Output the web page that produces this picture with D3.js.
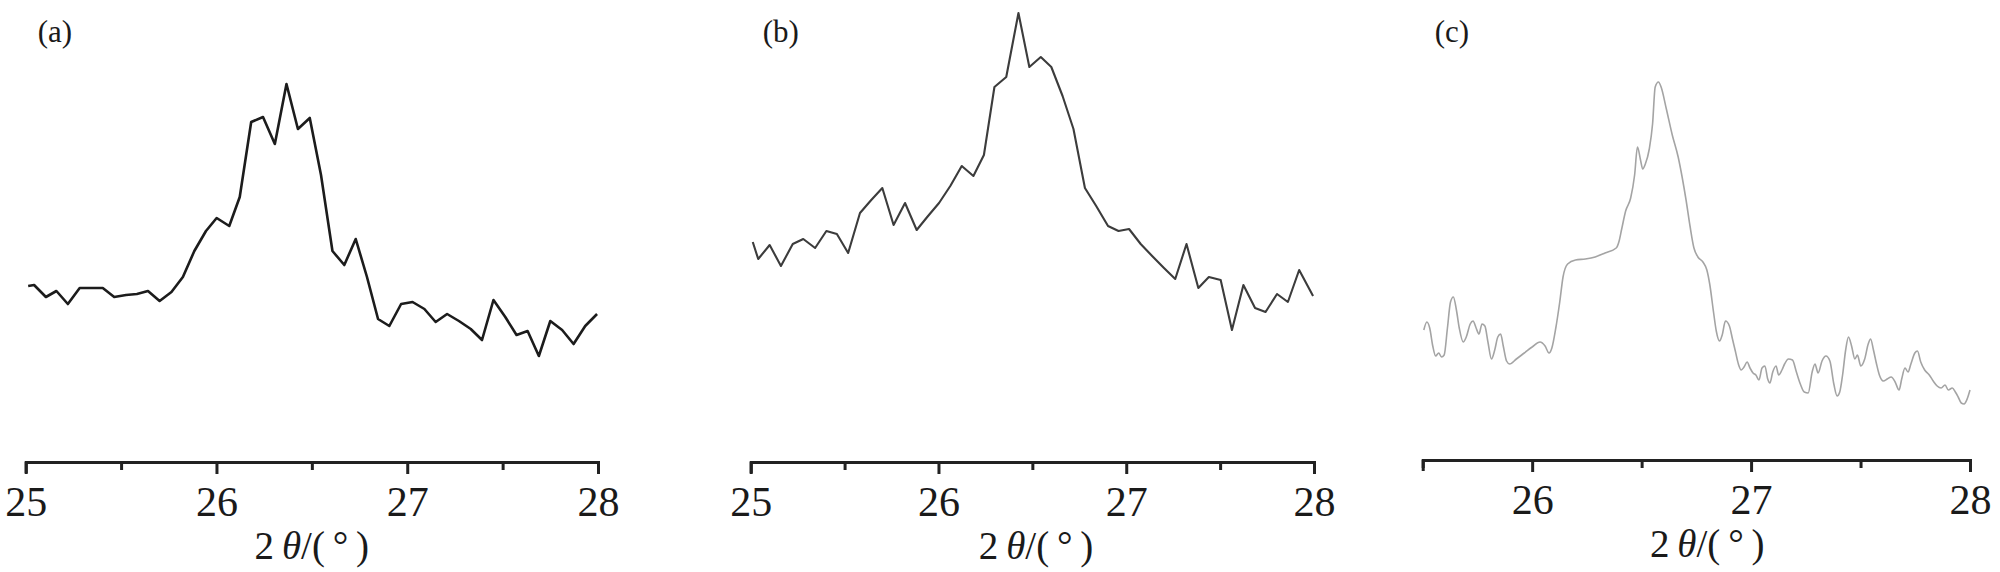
<!DOCTYPE html>
<html>
<head>
<meta charset="utf-8">
<script src="https://cdn.jsdelivr.net/npm/d3@7"></script>
<style>
  body { margin: 0; background: #fff; }
  svg { display: block; }
</style>
</head>
<body>
<svg width="2000" height="572"></svg>
<script>
// 2theta (deg) and intensity (a.u.), one pair of arrays per panel
var angleA = [25.013, 25.044, 25.106, 25.161, 25.221, 25.283, 25.345, 25.404, 25.464, 25.526,
  25.583, 25.641, 25.702, 25.764, 25.824, 25.884, 25.945, 26.001, 26.067, 26.122,
  26.182, 26.244, 26.306, 26.367, 26.427, 26.489, 26.548, 26.608, 26.670, 26.730,
  26.789, 26.847, 26.906, 26.968, 27.028, 27.090, 27.149, 27.209, 27.271, 27.333,
  27.392, 27.452, 27.514, 27.573, 27.631, 27.690, 27.750, 27.812, 27.872, 27.933, 27.995];
var intensityA = [176, 177, 165, 171, 158, 174, 174, 174, 165, 167,
  168, 171, 161, 170, 185, 211, 231, 244, 236, 265,
  340, 345, 318, 378, 333, 344, 287, 211, 197, 223,
  185, 143, 136, 158, 160, 153, 140, 148, 141, 133,
  122, 162, 145, 127, 131, 106, 141, 132, 118, 136, 148];

var angleB = [25.011, 25.040, 25.101, 25.161, 25.224, 25.280, 25.343, 25.403, 25.459, 25.519,
  25.582, 25.642, 25.701, 25.761, 25.822, 25.884, 25.940, 26.003, 26.063, 26.124,
  26.186, 26.242, 26.298, 26.361, 26.426, 26.484, 26.545, 26.601, 26.661, 26.719,
  26.780, 26.840, 26.903, 26.959, 27.015, 27.077, 27.138, 27.201, 27.261, 27.321,
  27.384, 27.440, 27.503, 27.563, 27.624, 27.686, 27.742, 27.803, 27.861, 27.921, 27.995];
var intensityB = [220, 203, 217, 196, 218, 223, 214, 231, 228, 209,
  249, 262, 274, 237, 259, 232, 245, 259, 276, 296,
  286, 307, 375, 385, 449, 395, 405, 395, 366, 333,
  274, 256, 236, 231, 233, 218, 206, 194, 183, 218,
  174, 185, 182, 132, 177, 154, 150, 168, 160, 192, 166];

var angleC = [25.505, 25.519, 25.532, 25.546, 25.559, 25.573, 25.586, 25.598, 25.613, 25.627,
  25.640, 25.654, 25.667, 25.685, 25.699, 25.717, 25.730, 25.744, 25.757, 25.771,
  25.784, 25.798, 25.814, 25.829, 25.843, 25.856, 25.868, 25.883, 25.897, 25.928,
  25.964, 26.000, 26.036, 26.059, 26.077, 26.090, 26.108, 26.126, 26.141, 26.162,
  26.198, 26.243, 26.288, 26.333, 26.384, 26.396, 26.409, 26.427, 26.450, 26.468,
  26.481, 26.495, 26.505, 26.517, 26.535, 26.550, 26.562, 26.577, 26.589, 26.613,
  26.640, 26.667, 26.685, 26.703, 26.721, 26.739, 26.757, 26.780, 26.798, 26.811,
  26.829, 26.841, 26.856, 26.868, 26.883, 26.901, 26.915, 26.928, 26.942, 26.955,
  26.968, 26.982, 26.995, 27.009, 27.022, 27.036, 27.050, 27.063, 27.076, 27.086,
  27.099, 27.114, 27.126, 27.141, 27.153, 27.171, 27.189, 27.207, 27.225, 27.243,
  27.261, 27.279, 27.292, 27.306, 27.324, 27.342, 27.360, 27.378, 27.393, 27.405,
  27.418, 27.432, 27.445, 27.459, 27.474, 27.486, 27.501, 27.519, 27.535, 27.546,
  27.559, 27.573, 27.586, 27.604, 27.622, 27.640, 27.658, 27.676, 27.688, 27.703,
  27.717, 27.730, 27.748, 27.760, 27.775, 27.793, 27.814, 27.832, 27.850, 27.868,
  27.886, 27.901, 27.919, 27.933, 27.946, 27.960, 27.973, 27.987, 28.000];
var intensityC = [130, 138, 132, 114, 104, 107, 103, 105, 132, 158,
  163, 150, 132, 118, 123, 136, 139, 132, 126, 136,
  134, 118, 101, 110, 123, 126, 114, 99, 96, 101,
  107, 113, 118, 114, 107, 112, 132, 158, 183, 196,
  200, 201, 203, 207, 212, 218, 231, 249, 262, 285,
  313, 300, 291, 296, 311, 336, 373, 378, 373, 351,
  325, 303, 283, 260, 234, 212, 203, 198, 190, 176,
  147, 129, 119, 125, 139, 134, 121, 109, 96, 90,
  93, 98, 92, 87, 85, 80, 92, 94, 81, 77,
  88, 94, 85, 90, 96, 101, 100, 88, 76, 68,
  67, 88, 96, 87, 99, 104, 99, 76, 64, 68,
  85, 110, 123, 114, 101, 105, 94, 101, 116, 121,
  110, 96, 85, 79, 81, 83, 78, 70, 81, 92,
  88, 96, 107, 109, 98, 90, 85, 79, 74, 72,
  75, 70, 72, 68, 63, 57, 56, 61, 70];

var majorTicks = [25, 26, 27, 28];
var minorTicks = [25.5, 26.5, 27.5];
var panelLabels = ["(a)", "(b)", "(c)"];

var panels = [
  { label: panelLabels[0], angle: angleA, value: intensityA, domain: [25, 28],
    x0: 25.7, x1: 598, axisY: 462, titleAt: 26.5, color: "#1c1c1c", width: 2.6, curve: d3.curveLinear },
  { label: panelLabels[1], angle: angleB, value: intensityB, domain: [25, 28],
    x0: 750.7, x1: 1314, axisY: 462, titleAt: 26.52, color: "#3c3c3c", width: 2.1, curve: d3.curveLinear },
  { label: panelLabels[2], angle: angleC, value: intensityC, domain: [25.5, 28],
    x0: 1422.7, x1: 1970, axisY: 460, titleAt: 26.8, color: "#a4a4a4", width: 1.6, curve: d3.curveMonotoneX }
];

var svg = d3.select("svg");
var serif = "'Liberation Serif', 'Times New Roman', serif";

panels.forEach(function(p) {
  var x = d3.scaleLinear().domain(p.domain).range([p.x0, p.x1]);
  var y = d3.scaleLinear().domain([0, p.axisY]).range([p.axisY, 0]);

  var g = svg.append("g");

  // spectrum
  var pts = p.angle.map(function(a, i) { return [a, p.value[i]]; });
  var line = d3.line()
    .x(function(d) { return x(d[0]); })
    .y(function(d) { return y(d[1]); })
    .curve(p.curve);
  g.append("path")
    .datum(pts)
    .attr("d", line)
    .attr("fill", "none")
    .attr("stroke", p.color)
    .attr("stroke-width", p.width)
    .attr("stroke-linejoin", "round");

  // bottom axis, ticks pointing down, labels on whole degrees only
  var ticks = majorTicks.concat(minorTicks)
    .filter(function(t) { return t >= p.domain[0] && t <= p.domain[1]; })
    .sort(d3.ascending);
  var axis = d3.axisBottom(x)
    .tickValues(ticks)
    .tickSizeOuter(0)
    .tickSize(11)
    .tickFormat(function(d) { return Number.isInteger(d) ? d : ""; });

  var ax = g.append("g")
    .attr("transform", "translate(0," + p.axisY + ")")
    .call(axis);
  ax.select(".domain")
    .attr("stroke", "#222")
    .attr("stroke-width", 3);
  ax.selectAll(".tick line")
    .attr("stroke", "#222")
    .attr("stroke-width", 3)
    .attr("y2", function(d) { return Number.isInteger(d) ? 12 : 8; });
  ax.selectAll(".tick text")
    .attr("y", 24)
    .attr("fill", "#1a1a1a")
    .style("font-family", serif)
    .style("font-size", "42px");

  // axis title  2θ/(°)
  var t = g.append("text")
    .attr("x", x(p.titleAt))
    .attr("y", p.axisY + 97)
    .attr("text-anchor", "middle")
    .attr("fill", "#1a1a1a")
    .style("font-family", serif)
    .style("font-size", "39px");
  t.append("tspan").text("2\u2009");
  t.append("tspan").style("font-style", "italic").text("\u03b8");
  t.append("tspan").text("/(\u2009\u00b0\u2009)");

  // panel label
  g.append("text")
    .attr("x", p.x0 + 12)
    .attr("y", 42)
    .attr("fill", "#1a1a1a")
    .style("font-family", serif)
    .style("font-size", "31px")
    .text(p.label);
});
</script>
</body>
</html>
